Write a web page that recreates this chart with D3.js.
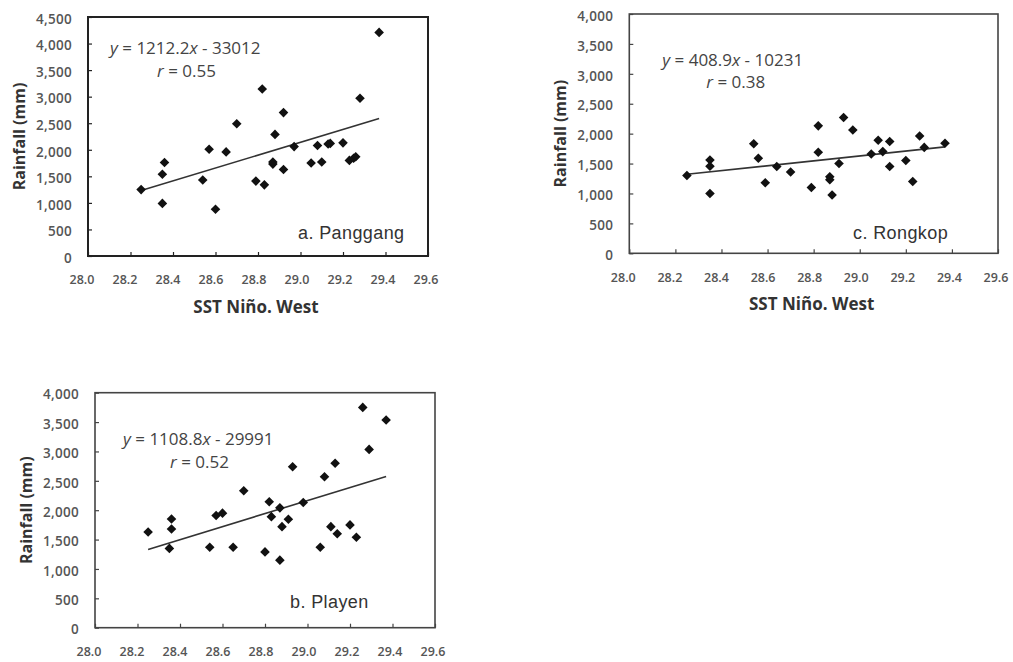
<!DOCTYPE html>
<html>
<head>
<meta charset="utf-8">
<script src="https://cdn.jsdelivr.net/npm/d3@7"></script>
<style>
  html, body { margin: 0; padding: 0; background: #ffffff; }
  svg { display: block; }
</style>
</head>
<body>
<svg id="chart" width="1013" height="662"></svg>
<script>
// ---------------- data ----------------
const xTickValues = [28.0, 28.2, 28.4, 28.6, 28.8, 29.0, 29.2, 29.4, 29.6];
const yTicksPanggang = [0, 500, 1000, 1500, 2000, 2500, 3000, 3500, 4000, 4500];
const yTicksOther = [0, 500, 1000, 1500, 2000, 2500, 3000, 3500, 4000];

const panggangSST = [28.25, 28.35, 28.35, 28.36, 28.54, 28.57, 28.60, 28.65, 28.70, 28.79, 28.83, 28.82, 28.87, 28.87, 28.88, 28.92, 28.92, 28.97, 29.05, 29.08, 29.10, 29.13, 29.14, 29.20, 29.23, 29.25, 29.26, 29.28, 29.37];
const panggangRain = [1250, 990, 1540, 1760, 1430, 2010, 880, 1960, 2490, 1410, 1340, 3145, 1730, 1770, 2290, 2700, 1630, 2060, 1750, 2080, 1770, 2110, 2120, 2130, 1800, 1840, 1870, 2970, 4210];

const rongkopSST = [28.25, 28.35, 28.35, 28.35, 28.54, 28.56, 28.59, 28.64, 28.70, 28.79, 28.82, 28.82, 28.87, 28.87, 28.88, 28.91, 28.93, 28.97, 29.05, 29.08, 29.10, 29.13, 29.13, 29.20, 29.23, 29.26, 29.28, 29.37];
const rongkopRain = [1300, 1000, 1560, 1455, 1830, 1590, 1180, 1450, 1360, 1100, 2130, 1690, 1280, 1230, 975, 1500, 2270, 2060, 1660, 1890, 1700, 1870, 1450, 1550, 1200, 1960, 1770, 1840];

const playenSST = [28.25, 28.35, 28.36, 28.36, 28.54, 28.57, 28.60, 28.65, 28.70, 28.80, 28.82, 28.83, 28.87, 28.87, 28.88, 28.91, 28.93, 28.98, 29.06, 29.08, 29.11, 29.13, 29.14, 29.20, 29.23, 29.26, 29.29, 29.37];
const playenRain = [1630, 1350, 1680, 1850, 1370, 1910, 1950, 1370, 2330, 1290, 2145, 1890, 2040, 1150, 1720, 1845, 2740, 2130, 1370, 2570, 1720, 2800, 1600, 1750, 1540, 3750, 3035, 3535];

const stationNames = ["a. Panggang", "c. Rongkop", "b. Playen"];
const slopes = [1212.2, 408.9, 1108.8];
const intercepts = [-33012, -10231, -29991];
const slopeTexts = ["1212.2", "408.9", "1108.8"];
const interceptTexts = ["33012", "10231", "29991"];
const rTexts = ["0.55", "0.38", "0.52"];
const yTitle = "Rainfall (mm)";
const xTitle = "SST Niño. West";

// ---------------- layout ----------------
const layouts = [
  { x0: 88,    x1: 428, y0: 17,    y1: 256,   yMax: 4500, yTicks: yTicksPanggang, frame: "#222", fw: 2,   eq: [22, 31], r: [69, 54], name: [298, -23], showXTitle: true },
  { x0: 629.3, x1: 998, y0: 14,    y1: 253.3, yMax: 4000, yTicks: yTicksOther,    frame: "#444", fw: 1.6, eq: [33, 46], r: [77, 68], name: [853, -21], showXTitle: true },
  { x0: 95,    x1: 435, y0: 392.7, y1: 627.7, yMax: 4000, yTicks: yTicksOther,    frame: "#444", fw: 1.6, eq: [28, 46], r: [75, 69], name: [290, -26], showXTitle: false }
];
const seriesX = [panggangSST, rongkopSST, playenSST];
const seriesY = [panggangRain, rongkopRain, playenRain];

const svg = d3.select("#chart");
const fmt = d3.format(",");
const tickFont = "'Open Sans', 'DejaVu Sans', sans-serif";

layouts.forEach((L, i) => {
  const g = svg.append("g");
  const x = d3.scaleLinear().domain([28.0, 29.6]).range([L.x0, L.x1]);
  const xl = d3.scaleLinear().domain([28.0, 29.6]).range([L.x0 - 6, L.x1 - 2]);
  const y = d3.scaleLinear().domain([0, L.yMax]).range([L.y1, L.y0]);

  // frame
  g.append("rect")
    .attr("x", L.x0).attr("y", L.y0)
    .attr("width", L.x1 - L.x0).attr("height", L.y1 - L.y0)
    .attr("fill", "none").attr("stroke", L.frame).attr("stroke-width", L.fw);

  // x ticks (inward)
  const xa = g.append("g").attr("transform", `translate(0,${L.y1})`)
    .call(d3.axisBottom(x).tickValues(xTickValues).tickSize(-4).tickFormat(""));
  xa.select(".domain").remove();
  xa.selectAll("line").attr("stroke", L.frame).attr("stroke-width", 1.2);

  // y ticks (inward)
  const ya = g.append("g").attr("transform", `translate(${L.x0},0)`)
    .call(d3.axisLeft(y).tickValues(L.yTicks).tickSize(-4).tickFormat(""));
  ya.select(".domain").remove();
  ya.selectAll("line").attr("stroke", L.frame).attr("stroke-width", 1.2);

  // x tick labels
  g.selectAll(".xl").data(xTickValues).enter().append("text")
    .attr("x", d => xl(d)).attr("y", L.y1 + 24)
    .attr("dy", "0.35em")
    .attr("text-anchor", "middle")
    .attr("font-family", tickFont).attr("font-size", 12.5).attr("font-weight", 600)
    .attr("fill", "#555")
    .text(d => d.toFixed(1));

  // y tick labels
  g.selectAll(".yl").data(L.yTicks).enter().append("text")
    .attr("x", L.x0 - 16).attr("y", d => y(d) + 2)
    .attr("dy", "0.35em")
    .attr("text-anchor", "end")
    .attr("font-family", tickFont).attr("font-size", 13.5).attr("font-weight", 600)
    .attr("letter-spacing", 0.3)
    .attr("fill", "#555")
    .text(d => fmt(d));

  // y title
  g.append("text")
    .attr("transform", `translate(${L.x0 - 69},${(L.y0 + L.y1) / 2}) rotate(-90)`)
    .attr("dy", "0.35em")
    .attr("text-anchor", "middle")
    .attr("font-family", tickFont).attr("font-size", 16).attr("font-weight", 700)
    .attr("fill", "#333")
    .text(yTitle);

  // x title
  if (L.showXTitle) {
    g.append("text")
      .attr("x", (L.x0 + L.x1) / 2 - 2).attr("y", L.y1 + 51)
      .attr("dy", "0.35em")
      .attr("text-anchor", "middle")
      .attr("font-family", tickFont).attr("font-size", 17).attr("font-weight", 700)
      .attr("fill", "#333")
      .text(xTitle);
  }

  // regression line over the data range
  const xs = seriesX[i];
  const [xmin, xmax] = d3.extent(xs);
  const lineData = [xmin, xmax].map(v => [v, slopes[i] * v + intercepts[i]]);
  g.append("path")
    .datum(lineData)
    .attr("d", d3.line().x(d => x(d[0])).y(d => y(d[1])))
    .attr("fill", "none").attr("stroke", "#333").attr("stroke-width", 1.6);

  // points (diamonds)
  const sym = d3.symbol().type(d3.symbolSquare).size(46);
  g.selectAll(".pt").data(xs.map((v, k) => [v, seriesY[i][k]])).enter().append("path")
    .attr("d", sym)
    .attr("transform", d => `translate(${x(d[0])},${y(d[1])}) rotate(45)`)
    .attr("fill", "#111");

  // equation
  const eq = g.append("text")
    .attr("x", L.x0 + L.eq[0]).attr("y", L.y0 + L.eq[1])
    .attr("dy", "0.35em")
    .attr("font-family", tickFont).attr("font-size", 17)
    .attr("fill", "#444");
  eq.append("tspan").attr("font-style", "italic").text("y");
  eq.append("tspan").text(" = " + slopeTexts[i]);
  eq.append("tspan").attr("font-style", "italic").text("x");
  eq.append("tspan").text(" - " + interceptTexts[i]);

  const rt = g.append("text")
    .attr("x", L.x0 + L.r[0]).attr("y", L.y0 + L.r[1])
    .attr("dy", "0.35em")
    .attr("font-family", tickFont).attr("font-size", 17)
    .attr("fill", "#444");
  rt.append("tspan").attr("font-style", "italic").text("r");
  rt.append("tspan").text(" = " + rTexts[i]);

  // station name
  g.append("text")
    .attr("x", L.name[0]).attr("y", L.y1 + L.name[1])
    .attr("dy", "0.35em")
    .attr("font-family", "'Liberation Sans', Arial, sans-serif").attr("font-size", 18)
    .attr("letter-spacing", 0.4)
    .attr("fill", "#333")
    .text(stationNames[i]);
});
</script>
</body>
</html>
